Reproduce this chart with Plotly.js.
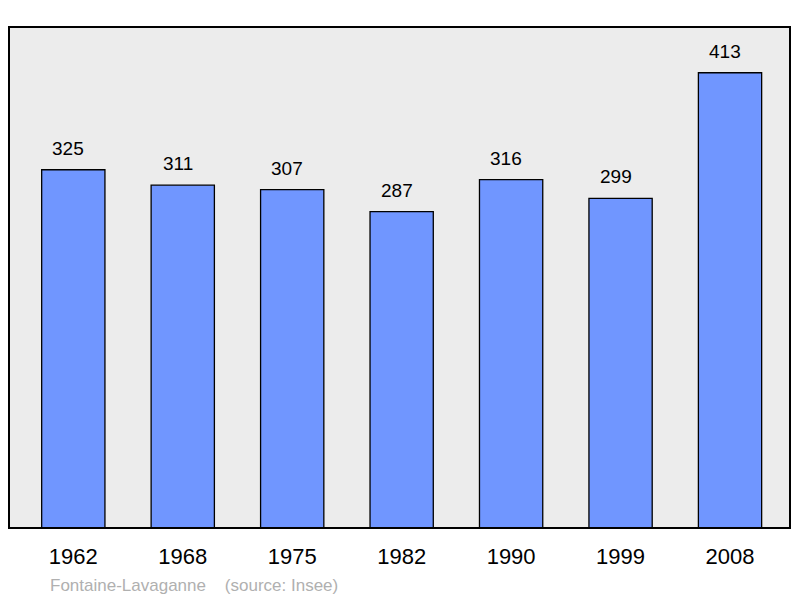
<!DOCTYPE html>
<html>
<head>
<meta charset="utf-8">
<script src="https://cdn.plot.ly/plotly-3.0.1.min.js"></script>
<style>html,body{margin:0;padding:0;background:#fff;}#chart{width:800px;height:598px;}</style>
</head>
<body>
<div id="chart"></div>
<script>
const years = ["1962", "1968", "1975", "1982", "1990", "1999", "2008"];
const population = [325, 311, 307, 287, 316, 299, 413];
const sourceText = "Fontaine-Lavaganne &nbsp;&nbsp; (source: Insee)";

const trace = {
  type: "bar",
  x: years,
  y: population,
  width: 0.578,
  marker: { color: "#7096ff", line: { color: "#000", width: 1.3 } },
  hoverinfo: "skip"
};

const annotations = years.map((yr, i) => ({
  x: i, y: population[i], xref: "x", yref: "y",
  text: String(population[i]), showarrow: false,
  yanchor: "bottom", yshift: 9, xshift: -5,
  font: { family: "Liberation Sans, Arial, sans-serif", size: 19, color: "#000" }
}));
annotations.push({
  xref: "paper", yref: "paper", x: (48 - 9) / 781, y: -(585 - 528) / 501,
  xanchor: "left", yanchor: "middle", showarrow: false,
  text: sourceText,
  font: { family: "Liberation Sans, Arial, sans-serif", size: 17, color: "#b0b0b0" }
});

const layout = {
  width: 800, height: 598,
  margin: { l: 9, r: 10, t: 27, b: 70, pad: 0 },
  paper_bgcolor: "#ffffff",
  plot_bgcolor: "#ececec",
  showlegend: false,
  xaxis: {
    type: "category",
    range: [-0.5875, 6.548],
    showgrid: false, zeroline: false, showline: false,
    ticks: "", ticklabelstandoff: 13,
    tickfont: { family: "Liberation Sans, Arial, sans-serif", size: 22, color: "#000" }
  },
  yaxis: {
    range: [0, 454.5],
    showgrid: false, zeroline: false, showline: false, showticklabels: false, ticks: ""
  },
  shapes: [{
    type: "rect", xref: "paper", yref: "paper", x0: 0, x1: 1, y0: 0, y1: 1,
    line: { color: "#000", width: 2 }, fillcolor: "rgba(0,0,0,0)", layer: "above"
  }],
  annotations: annotations
};

Plotly.newPlot("chart", [trace], layout, { staticPlot: true, displayModeBar: false });
</script>
</body>
</html>
